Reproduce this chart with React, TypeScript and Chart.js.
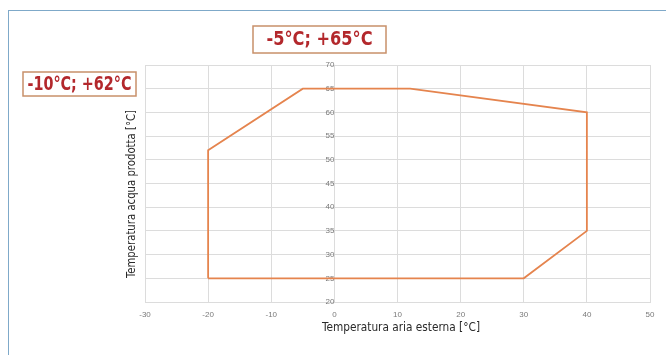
import React, { useEffect, useRef } from "react";
import { Chart, registerables } from "chart.js";

Chart.register(...registerables);

const envelopeX = [-20, -20, -5, 12, 40, 40, 30, -20];
const envelopeY = [25, 52, 65, 65, 60, 35, 25, 25];
const xTitle = "Temperatura aria esterna [°C]";
const yTitle = "Temperatura acqua prodotta [°C]";
const labelA = "-5°C; +65°C";
const labelB = "-10°C; +62°C";

const FONT = "'Liberation Sans Narrow', 'DejaVu Sans Condensed', 'Roboto', sans-serif";

function fitText(ctx: CanvasRenderingContext2D, text: string, cx: number, cy: number, w: number, font: string, color: string, rotate = 0) {
  ctx.save();
  ctx.font = font;
  ctx.fillStyle = color;
  ctx.textAlign = "center";
  ctx.textBaseline = "middle";
  const m = ctx.measureText(text).width;
  ctx.translate(cx, cy);
  if (rotate) ctx.rotate(rotate);
  ctx.scale(w / m, 1);
  ctx.fillText(text, 0, 0);
  ctx.restore();
}

const overlay = {
  id: "overlay",
  afterDraw(chart: any) {
    const ctx = chart.ctx as CanvasRenderingContext2D;
    const boxes = [
      { t: labelA, x: 253, y: 26, w: 133, h: 27, tw: 106 },
      { t: labelB, x: 23, y: 72, w: 113, h: 24, tw: 104 },
    ];
    boxes.forEach((b) => {
      ctx.save();
      ctx.fillStyle = "#ffffff";
      ctx.fillRect(b.x, b.y, b.w, b.h);
      ctx.strokeStyle = "#c8906a";
      ctx.lineWidth = 1.5;
      ctx.strokeRect(b.x, b.y, b.w, b.h);
      ctx.restore();
      fitText(ctx, b.t, b.x + b.w / 2, b.y + b.h / 2 + 1, b.tw, "bold 19px " + FONT, "#b3282c");
    });
    fitText(ctx, yTitle, 132, 194, 168, "13px " + FONT, "#2a2a2a", -Math.PI / 2);
    fitText(ctx, xTitle, 401, 328, 158, "13px " + FONT, "#2a2a2a");
  },
};

export default function App() {
  const ref = useRef<HTMLCanvasElement>(null);
  useEffect(() => {
    const pts = envelopeX.map((x, i) => ({ x, y: envelopeY[i] }));
    const chart = new Chart(ref.current!, {
      type: "scatter",
      data: {
        datasets: [
          {
            data: pts,
            showLine: true,
            borderColor: "#e5844e",
            borderWidth: 1.8,
            pointRadius: 0,
            fill: false,
          },
        ],
      },
      options: {
        animation: false,
        responsive: false,
        maintainAspectRatio: false,
        layout: { padding: { left: 145, right: 16, top: 65, bottom: 13 } },
        plugins: { legend: { display: false }, tooltip: { enabled: false } },
        scales: {
          x: {
            type: "linear",
            min: -30,
            max: 50,
            ticks: { stepSize: 10, color: "#7a7a7a", font: { size: 8 }, padding: 8 },
            grid: { color: "#dcdcdc", drawTicks: false },
            border: { color: "#dcdcdc" },
            afterFit: (s: any) => { s.height = 40; },
          },
          y: {
            type: "linear",
            position: { x: 0 },
            min: 20,
            max: 70,
            ticks: { stepSize: 5, color: "#7a7a7a", font: { size: 8 }, padding: 8 },
            grid: { color: "#dcdcdc", drawTicks: false },
            border: { color: "#dcdcdc" },
          },
        },
      },
      plugins: [overlay],
    } as any);
    return () => chart.destroy();
  }, []);
  return (
    <div style={{ position: "fixed", left: 0, top: 0, width: 666, height: 355, background: "#fff", overflow: "hidden" }}>
      <div style={{ position: "absolute", left: 8, top: 10, width: 700, height: 400, border: "1.5px solid #7fa9c9", boxSizing: "border-box" }} />
      <canvas ref={ref} width={666} height={355} style={{ position: "absolute", left: 0, top: 0 }} />
    </div>
  );
}
